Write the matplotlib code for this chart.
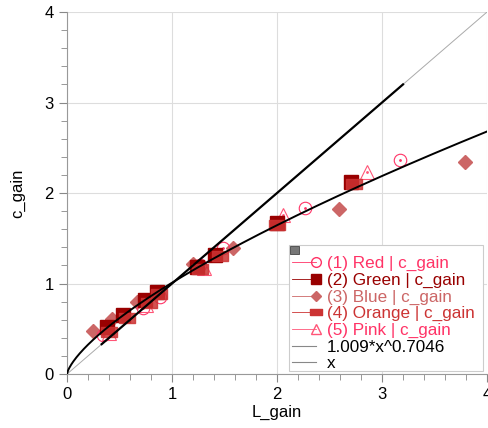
import numpy as np
import matplotlib.pyplot as plt
from matplotlib.lines import Line2D
from matplotlib.legend_handler import HandlerLine2D

plt.rcParams['font.family'] = ['Liberation Sans', 'DejaVu Sans']

# ── data ────────────────────────────────────────────────────
red_x = [0.34, 0.72, 0.89, 1.27, 1.49, 2.27, 3.17]
red_y = [0.43, 0.73, 0.85, 1.20, 1.39, 1.83, 2.36]

green_x = [0.38, 0.53, 0.74, 0.86, 1.24, 1.41, 2.00, 2.70]
green_y = [0.52, 0.65, 0.82, 0.91, 1.18, 1.31, 1.67, 2.12]

blue_x = [0.25, 0.43, 0.67, 1.20, 1.58, 2.59, 3.79]
blue_y = [0.48, 0.61, 0.80, 1.22, 1.39, 1.82, 2.34]

orange_x = [0.40, 0.57, 0.78, 0.88, 1.27, 1.46, 2.00, 2.73]
orange_y = [0.47, 0.62, 0.78, 0.88, 1.16, 1.30, 1.65, 2.10]

pink_x = [0.40, 0.75, 1.30, 2.06, 2.86]
pink_y = [0.45, 0.76, 1.17, 1.76, 2.23]

fit_a, fit_b = 1.009, 0.7046
ident_start, ident_end = 0.33, 3.2

# ── figure ──────────────────────────────────────────────────
fig = plt.figure(figsize=(4.89, 4.28), dpi=100)
ax = fig.add_axes([0.137, 0.126, 0.859, 0.846])

c_red = "#ff3366"
c_green = "#990000"
c_blue = "#cc6666"
c_orange = "#cc3333"
c_pink = "#ff5577"

bar = [(-1, -0.55), (1, -0.55), (1, 0.55), (-1, 0.55), (-1, -0.55)]

# x = y reference line (thin grey) and fitted curves
xs = np.linspace(0, 4, 400)
ax.plot(xs, xs, color="#aaaaaa", lw=0.7, zorder=2)
xi = np.linspace(ident_start, ident_end, 50)
ax.plot(xi, xi, color="black", lw=1.6, zorder=5)
ax.plot(xs, fit_a * xs ** fit_b, color="black", lw=1.4, zorder=5)

# data series
ax.plot(blue_x, blue_y, ls="none", marker="D", ms=7, color=c_blue, zorder=3)
ax.plot(red_x, red_y, ls="none", marker="o", ms=9, mfc="none",
        mec=c_red, mew=0.8, zorder=3)
ax.plot(red_x, red_y, ls="none", marker=".", ms=2, color=c_red, zorder=3)
ax.plot(pink_x, pink_y, ls="none", marker="^", ms=10, mfc="none",
        mec=c_pink, mew=0.8, zorder=3)
ax.plot(pink_x, pink_y, ls="none", marker=".", ms=2, color=c_pink, zorder=3)
ax.plot(green_x, green_y, ls="none", marker="s", ms=10, color=c_green, zorder=4)
ax.plot(orange_x, orange_y, ls="none", marker=bar, ms=12, color=c_orange,
        alpha=0.85, zorder=4)

# axes styling
ax.set_xlim(0, 4)
ax.set_ylim(0, 4)
ax.set_xticks([0, 1, 2, 3, 4])
ax.set_yticks([0, 1, 2, 3, 4])
ax.set_xticks(np.arange(0, 4.01, 0.2), minor=True)
ax.set_yticks(np.arange(0, 4.01, 0.2), minor=True)
ax.grid(True, which="major", color="#dddddd", lw=0.8)
ax.tick_params(which="both", color="#888888", labelsize=12)
ax.tick_params(which="major", length=6)
ax.tick_params(which="minor", length=4)
for s in ["top", "right"]:
    ax.spines[s].set_visible(False)
for s in ["left", "bottom"]:
    ax.spines[s].set_color("#999999")
ax.set_xlabel("L_gain", fontsize=12, labelpad=2)
ax.set_ylabel("c_gain", fontsize=12, labelpad=14)


# legend: short line with the marker at its right end
class EndMarker(HandlerLine2D):
    def create_artists(self, *args, **kw):
        arts = super().create_artists(*args, **kw)
        for a in arts:
            a.set_markevery([2])
        return arts


def handle(color, **kw):
    return Line2D([], [], color=color, lw=0.6, **kw)


handles = [
    handle(c_red, marker="o", ms=7, mfc="none", mec=c_red),
    handle(c_green, marker="s", ms=7),
    handle(c_blue, marker="D", ms=5),
    handle(c_orange, marker=bar, ms=8),
    handle(c_pink, marker="^", ms=7, mfc="none", mec=c_pink),
    Line2D([], [], color="#888888", lw=0.8),
    Line2D([], [], color="#888888", lw=0.8),
]
labels = ["(1) Red | c_gain", "(2) Green | c_gain", "(3) Blue | c_gain",
          "(4) Orange | c_gain", "(5) Pink | c_gain", "1.009*x^0.7046", "x"]

# legend frame drawn by hand (extra room at the top for the little icon)
ax.add_patch(plt.Rectangle((0.529, 0.008), 0.461, 0.348, transform=ax.transAxes,
                           facecolor="white", edgecolor="#cccccc", lw=0.8,
                           zorder=6, clip_on=False))
ax.add_patch(plt.Rectangle((0.531, 0.331), 0.022, 0.023, transform=ax.transAxes,
                           facecolor="#777777", edgecolor="#444444", lw=0.6,
                           zorder=8, clip_on=False))

leg = ax.legend(handles, labels, loc="upper left", numpoints=1,
                handler_map={Line2D: EndMarker()},
                bbox_to_anchor=(0.535, 0.326),
                fontsize=12.3, frameon=False, handlelength=1.45,
                handletextpad=0.6, labelspacing=0.095, borderpad=0,
                borderaxespad=0)
leg.set_zorder(9)
for txt, col in zip(leg.get_texts(),
                    [c_red, c_green, c_blue, c_orange, c_red, "black", "black"]):
    txt.set_color(col)

fig.savefig("out.png", dpi=100)
